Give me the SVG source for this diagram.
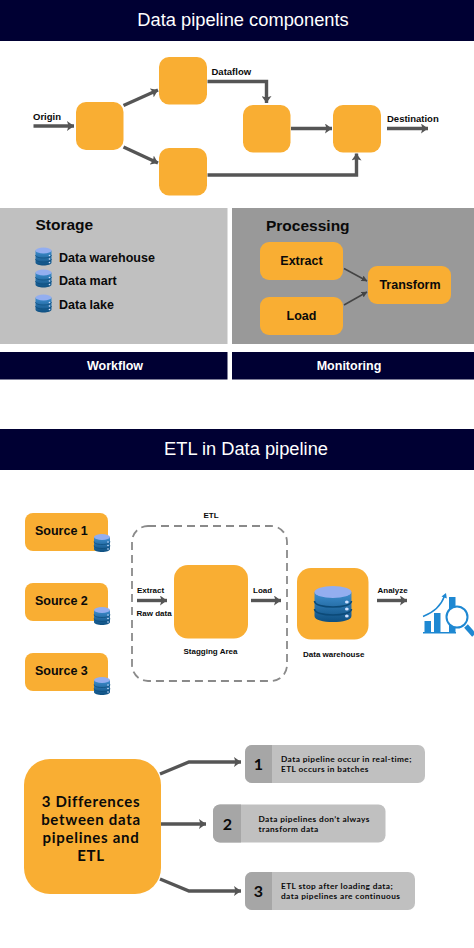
<svg xmlns="http://www.w3.org/2000/svg" xmlns:xlink="http://www.w3.org/1999/xlink" width="474" height="948" viewBox="0 0 474 948">
<style>
text{font-family:"Liberation Sans",Arial,sans-serif;font-weight:700;fill:#0a0a0a}
.bar{fill:#000033}
.or{fill:#f9ae33}
.hd{fill:#fff;font-weight:400;font-size:18.3px;text-anchor:middle}
.ft{fill:#fff;font-size:12.5px;text-anchor:middle}
.lb{font-size:9.5px}
.sm{font-size:8px}
.st{font-size:12.5px}
.ti{font-size:15.5px}
.pr{font-size:12.5px;text-anchor:middle}
.so{font-size:12.5px}
.nt{font-family:Lato,"Open Sans",sans-serif;font-size:8.3px;font-weight:700;letter-spacing:.4px}
.num{font-family:Lato,"Open Sans",sans-serif;font-size:16px;font-weight:700;text-anchor:middle}
.big{font-family:Lato,"Open Sans",sans-serif;font-size:15px;font-weight:700;text-anchor:middle;letter-spacing:.7px}
.c{fill:none;stroke:#555;stroke-width:3.4}
.t{fill:none;stroke:#444;stroke-width:1.5}
</style>
<defs>
<marker id="a" markerUnits="userSpaceOnUse" markerWidth="8" markerHeight="10" refX="7" refY="5" orient="auto"><path d="M0 0L7 5L0 10L1.500 5Z" fill="#555"/></marker>
<marker id="b" markerUnits="userSpaceOnUse" markerWidth="6" markerHeight="6" refX="5.500" refY="3" orient="auto"><path d="M0 0L6 3L0 6Z" fill="#444"/></marker>
<linearGradient id="g" x1="0" y1="0" x2="0" y2="1"><stop offset="0" stop-color="#3f8fd0"/><stop offset="1" stop-color="#0e4f80"/></linearGradient>
<g id="db">
<path d="M0 3V15C0 17 3.800 18 8 18S16 17 16 15V3Z" fill="url(#g)"/>
<path d="M0 7.500C0 9.500 3.800 10.500 8 10.500S16 9.500 16 7.500M0 11.500C0 13.500 3.800 14.500 8 14.500S16 13.500 16 11.500" fill="none" stroke="#0c4a78" stroke-width=".7"/>
<ellipse cx="8" cy="3" rx="8" ry="3" fill="#93aef0"/>
<circle cx="14" cy="8" r=".8" fill="#cfe0ff"/><circle cx="14" cy="11.500" r=".8" fill="#cfe0ff"/><circle cx="14" cy="15" r=".8" fill="#cfe0ff"/>
</g>
</defs>
<rect width="474" height="948" fill="#fff"/>
<g id="header-components"><rect class="bar" width="474" height="41"/><text class="hd" x="243" y="26">Data pipeline components</text></g>
<g id="storage">
<rect x="0" y="208" width="227.500" height="136" fill="#c0c0c0"/>
<text class="ti" x="35.500" y="230">Storage</text>
<use xlink:href="#db" href="#db" transform="translate(35.500 247.500)"/>
<use xlink:href="#db" href="#db" transform="translate(35.500 269.500)"/>
<use xlink:href="#db" href="#db" transform="translate(35.500 294.500)"/>
<text class="st" x="59" y="261.500">Data warehouse</text>
<text class="st" x="59" y="285">Data mart</text>
<text class="st" x="59" y="309">Data lake</text>
</g>
<g id="processing">
<rect x="232" y="208" width="242" height="136" fill="#999"/>
<text class="ti" x="266" y="231">Processing</text>
</g>
<g id="connectors">
<path class="c" marker-end="url(#a)" d="M33.500 126H74"/>
<path class="c" marker-end="url(#a)" d="M123.500 105.500L158 90"/>
<path class="c" marker-end="url(#a)" d="M123.500 147L158 163"/>
<path class="c" marker-end="url(#a)" d="M207.500 81.500H266.500V103"/>
<path class="c" marker-end="url(#a)" d="M291 128.500H332"/>
<path class="c" marker-end="url(#a)" d="M207.500 175H356.500V153.500"/>
<path class="c" marker-end="url(#a)" d="M387 128.500H428"/>
<path class="t" marker-end="url(#b)" d="M344 268.500L367 281"/>
<path class="t" marker-end="url(#b)" d="M344 305L367 292"/>
<path class="c" marker-end="url(#a)" d="M137 600.500H167"/>
<path class="c" marker-end="url(#a)" d="M251 600.500H281"/>
<path class="c" marker-end="url(#a)" d="M377 600.500H407"/>
<path class="c" marker-end="url(#a)" d="M160 774L189 762H241"/>
<path class="c" marker-end="url(#a)" d="M161 824H206"/>
<path class="c" marker-end="url(#a)" d="M160 879L189 891H241"/>
</g>
<g id="n-origin"><rect class="or" x="76" y="102" width="47.500" height="48" rx="10"/><text class="lb" x="33" y="120">Origin</text></g>
<g id="n-top"><rect class="or" x="159" y="57" width="48" height="47.500" rx="10"/></g>
<g id="n-bottom"><rect class="or" x="159" y="148" width="48" height="47.500" rx="10"/></g>
<g id="n-mid"><rect class="or" x="243" y="105" width="47.500" height="47.500" rx="10"/><text class="lb" x="211.500" y="75">Dataflow</text></g>
<g id="n-dest"><rect class="or" x="333" y="105" width="48" height="47.500" rx="10"/><text class="lb" x="387" y="122">Destination</text></g>
<g id="n-extract"><rect class="or" x="260" y="242" width="83" height="38" rx="9"/><text class="pr" x="301.500" y="265">Extract</text></g>
<g id="n-load"><rect class="or" x="260" y="297" width="83" height="38" rx="9"/><text class="pr" x="301.500" y="320">Load</text></g>
<g id="n-transform"><rect class="or" x="368" y="266" width="83" height="38" rx="9"/><text class="pr" x="410" y="289">Transform</text></g>
<g id="workflow"><rect class="bar" y="352" width="227.500" height="27.500"/><text class="ft" x="115" y="370">Workflow</text></g>
<g id="monitoring"><rect class="bar" x="232" y="352" width="242" height="27.500"/><text class="ft" x="349" y="370">Monitoring</text></g>
<g id="header-etl"><rect class="bar" y="429" width="474" height="41"/><text class="hd" x="246" y="455">ETL in Data pipeline</text></g>
<g id="n-source1"><rect class="or" x="25" y="513" width="83" height="38" rx="8"/><text class="so" x="35" y="535">Source 1</text><use xlink:href="#db" href="#db" transform="translate(94 534)"/></g>
<g id="n-source2"><rect class="or" x="25" y="583" width="83" height="38" rx="8"/><text class="so" x="35" y="605">Source 2</text><use xlink:href="#db" href="#db" transform="translate(94 607)"/></g>
<g id="n-source3"><rect class="or" x="25" y="653" width="83" height="38" rx="8"/><text class="so" x="35" y="675">Source 3</text><use xlink:href="#db" href="#db" transform="translate(94 677)"/></g>
<g id="etl-box">
<rect x="132" y="526" width="155" height="155" rx="16" fill="none" stroke="#8a8a8a" stroke-width="1.800" stroke-dasharray="8 5"/>
<text class="sm" x="203.500" y="518">ETL</text>
<text class="sm" x="137" y="593">Extract</text>
<text class="sm" x="136.500" y="615.500">Raw data</text>
<text class="sm" x="253" y="593">Load</text>
</g>
<g id="n-staging"><rect class="or" x="174" y="565" width="74" height="73.500" rx="14"/><text class="sm" x="183.500" y="653.500">Stagging Area</text></g>
<g id="n-warehouse"><rect class="or" x="297" y="568" width="71.500" height="71.500" rx="14"/>
<use xlink:href="#db" href="#db" transform="translate(314.500 586) scale(2.310 2)"/>
<text class="sm" x="303" y="657">Data warehouse</text></g>
<g id="analyze">
<text class="sm" x="377.500" y="593">Analyze</text>
<path fill="#1e88d2" d="M424.500 621h6.500v11h-6.500zM434 613h6.500v19h-6.500zM449 597h6.500v35h-6.500z"/>
<path fill="#1e88d2" d="M423 632h33v1.500h-33z"/>
<path fill="none" stroke="#1e88d2" stroke-width="1.500" d="M423 616.500C432 613 441 606 444.500 596"/>
<path fill="#1e88d2" d="M441.500 596.500L446 593L446.800 598.500Z"/>
<circle cx="457" cy="617" r="10.500" fill="#fff" stroke="#1e88d2" stroke-width="2"/>
<path stroke="#1e88d2" stroke-width="5" d="M466 626L474 635" fill="none"/>
</g>
<g id="n-diff"><rect class="or" x="24" y="759" width="137" height="135" rx="26"/>
<text class="big"><tspan x="91" y="807">3 Differences</tspan><tspan x="91" y="825">between data</tspan><tspan x="91" y="843">pipelines and</tspan><tspan x="91" y="861">ETL</tspan></text></g>
<g id="n-d1"><rect x="245" y="745" width="180" height="38" rx="7" fill="#c0c0c0"/><path d="M252 745H272V783H252a7 7 0 0 1-7-7V752a7 7 0 0 1 7-7Z" fill="#a6a6a6"/><text class="num" x="258.500" y="770">1</text>
<text class="nt"><tspan x="281" y="762">Data pipeline occur in real-time;</tspan><tspan x="281" y="772">ETL occurs in batches</tspan></text></g>
<g id="n-d2"><rect x="213" y="804.500" width="172.500" height="38" rx="7" fill="#c0c0c0"/><path d="M220 804.500H241V842.500H220a7 7 0 0 1-7-7V811.500a7 7 0 0 1 7-7Z" fill="#a6a6a6"/><text class="num" x="227.500" y="829.500">2</text>
<text class="nt"><tspan x="258.500" y="822">Data pipelines don’t always</tspan><tspan x="258.500" y="832">transform data</tspan></text></g>
<g id="n-d3"><rect x="245" y="872" width="170" height="38" rx="7" fill="#c0c0c0"/><path d="M252 872H272V910H252a7 7 0 0 1-7-7V879a7 7 0 0 1 7-7Z" fill="#a6a6a6"/><text class="num" x="258.500" y="897">3</text>
<text class="nt"><tspan x="281" y="889">ETL stop after loading data;</tspan><tspan x="281" y="899">data pipelines are continuous</tspan></text></g>
</svg>
